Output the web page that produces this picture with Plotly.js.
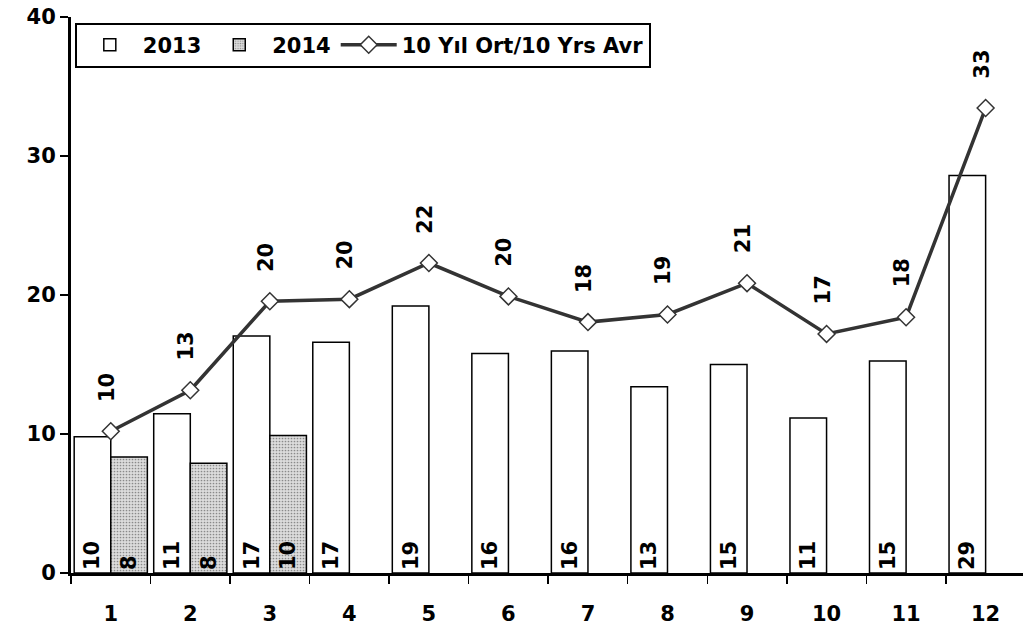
<!DOCTYPE html>
<html><head><meta charset="utf-8">
<script src="https://cdn.plot.ly/plotly-3.0.1.min.js"></script>
<style>html,body{margin:0;padding:0;background:#fff}</style>
</head><body>
<div id="chart" style="width:1023px;height:629px"></div>
<script>
const months = ['1','2','3','4','5','6','7','8','9','10','11','12'];
const values2013 = [9.8, 11.45, 17.05, 16.6, 19.2, 15.8, 15.97, 13.4, 15.0, 11.15, 15.25, 28.6];
const values2014 = [8.35, 7.9, 9.9, null, null, null, null, null, null, null, null, null];
const avg10 = [10.2, 13.15, 19.55, 19.7, 22.3, 19.9, 18.05, 18.6, 20.85, 17.2, 18.4, 33.45];
const yTicks = [0, 10, 20, 30, 40];

const FONT = 'DejaVu Sans, Verdana, sans-serif';
const labelFont = {family: FONT, size: 21, color: '#000', weight: 'bold'};

const traces = [
  {
    type: 'bar', name: '2013', x: months, y: values2013,
    marker: {color: '#ffffff', line: {color: '#000', width: 1.5}},
    texttemplate: '%{y:.0f}', textposition: 'inside', insidetextanchor: 'start',
    textangle: -90, textfont: labelFont, hoverinfo: 'skip'
  },
  {
    type: 'bar', name: '2014', x: months, y: values2014,
    marker: {color: '#d4d4d4', line: {color: '#000', width: 1.5},
      pattern: {shape: '.', fgcolor: '#8a8a8a', bgcolor: '#dcdcdc', size: 3, solidity: 0.25}},
    texttemplate: '%{y:.0f}', textposition: 'inside', insidetextanchor: 'start',
    textangle: -90, textfont: labelFont, hoverinfo: 'skip'
  },
  {
    type: 'scatter', mode: 'lines+markers', name: '10 Yıl Ort/10 Yrs Avr',
    x: months, y: avg10,
    line: {color: '#333333', width: 3.5},
    marker: {symbol: 'diamond', size: 13, color: '#ffffff', line: {color: '#333333', width: 1.5}},
    cliponaxis: false, hoverinfo: 'skip'
  }
];

const annotations = months.map((m, i) => ({
  x: i, y: avg10[i], xref: 'x', yref: 'y',
  text: String(Math.round(avg10[i])), showarrow: false,
  textangle: -90, yshift: 44, xshift: -4, font: labelFont
}));

const layout = {
  width: 1023, height: 629,
  margin: {l: 71, r: 0, t: 17, b: 56},
  paper_bgcolor: '#fff', plot_bgcolor: '#fff',
  barmode: 'group', bargap: 0.08, bargroupgap: 0,
  font: {family: FONT, color: '#000'},
  showlegend: true,
  legend: {
    orientation: 'h', x: 0.004, y: 0.99, xanchor: 'left', yanchor: 'top',
    bgcolor: '#fff', bordercolor: '#000', borderwidth: 2,
    font: {family: FONT, size: 21, weight: 'bold', color: '#000'},
    itemwidth: 56, traceorder: 'normal'
  },
  xaxis: {
    type: 'category', range: [-0.5, 11.47],
    showline: true, linecolor: '#000', linewidth: 3,
    ticks: 'outside', tickson: 'boundaries', ticklen: 8, tickwidth: 1.5, tickcolor: '#000',
    tickfont: {family: FONT, size: 21, weight: 'bold', color: '#000'},
    ticklabelstandoff: 20,
    showgrid: false, zeroline: false, fixedrange: true
  },
  yaxis: {
    range: [0, 40], tickvals: yTicks, ticktext: yTicks.map(String),
    showline: true, linecolor: '#000', linewidth: 3,
    ticks: 'outside', ticklen: 8, tickwidth: 1.5, tickcolor: '#000',
    tickfont: {family: FONT, size: 21, weight: 'bold', color: '#000'},
    showgrid: false, zeroline: false, fixedrange: true
  },
  annotations: annotations
};

Plotly.newPlot('chart', traces, layout, {staticPlot: true, displayModeBar: false});
</script>
</body></html>
